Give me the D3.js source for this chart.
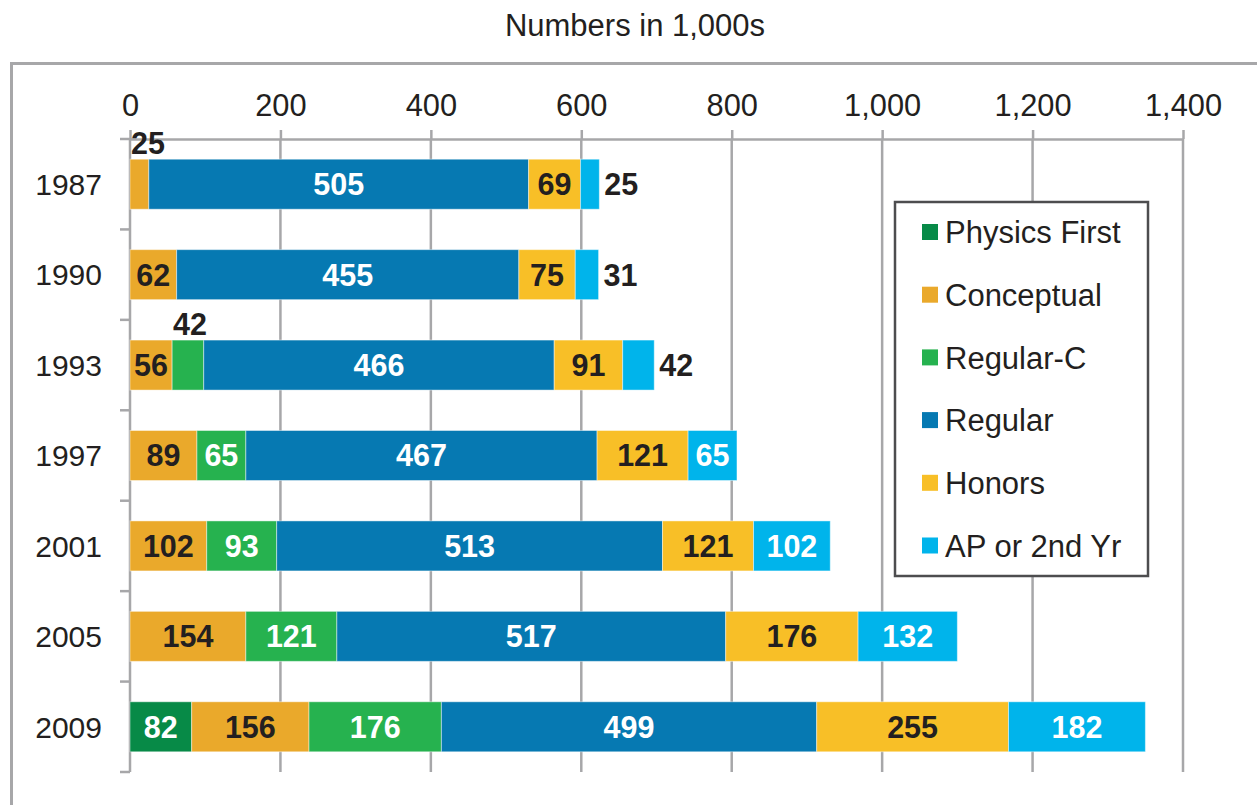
<!DOCTYPE html>
<html>
<head>
<meta charset="utf-8">
<script src="https://cdn.jsdelivr.net/npm/d3@7"></script>
<style>
  body { margin: 0; background: #fff; }
  svg text { font-family: "Liberation Sans", Arial, sans-serif; }
</style>
</head>
<body>
<div id="chart"></div>
<script>
// data (numbers in 1,000s)
const years = ["1987", "1990", "1993", "1997", "2001", "2005", "2009"];
const seriesNames = ["Physics First", "Conceptual", "Regular-C", "Regular", "Honors", "AP or 2nd Yr"];
const physicsFirst = [0, 0, 0, 0, 0, 0, 82];
const conceptual   = [25, 62, 56, 89, 102, 154, 156];
const regularC     = [0, 0, 42, 65, 93, 121, 176];
const regular      = [505, 455, 466, 467, 513, 517, 499];
const honors       = [69, 75, 91, 121, 121, 176, 255];
const apSecond     = [25, 31, 42, 65, 102, 132, 182];
const xTicks = [0, 200, 400, 600, 800, 1000, 1200, 1400];

const colors = ["#078a47", "#eaa92b", "#26b24f", "#0679b2", "#f8bf27", "#00b4eb"];
const labelColors = ["#fff", "#231f20", "#fff", "#fff", "#231f20", "#fff"];
const ink = "#231f20";

const width = 1257, height = 805;
const margin = {top: 139, left: 130};
const plotW = 1183 - margin.left, plotH = 772 - margin.top;

// table the stack layout needs
const rows = years.map((y, i) => ({
    year: y,
    "Physics First": physicsFirst[i],
    "Conceptual": conceptual[i],
    "Regular-C": regularC[i],
    "Regular": regular[i],
    "Honors": honors[i],
    "AP or 2nd Yr": apSecond[i]
}));

const svg = d3.select("#chart").append("svg")
    .attr("width", width).attr("height", height);

// outer frame (runs off the right and bottom edge)
svg.append("rect")
    .attr("x", 11.5).attr("y", 63.5)
    .attr("width", 1400).attr("height", 900)
    .attr("fill", "none").attr("stroke", "#a7a7a9").attr("stroke-width", 3);

svg.append("text")
    .attr("x", 635).attr("y", 36)
    .attr("text-anchor", "middle")
    .style("font-size", "31px").style("fill", ink)
    .text("Numbers in 1,000s");

const plot = svg.append("g")
    .attr("transform", "translate(" + margin.left + "," + margin.top + ")");

const x = d3.scaleLinear().domain([0, 1400]).range([0, plotW]);
const y = d3.scaleBand().domain(years).range([0, plotH])
    .paddingInner(0.447).paddingOuter(0.2235);

// gridlines
plot.append("g").selectAll("line")
    .data(xTicks.slice(1))
    .join("line")
    .attr("x1", d => x(d)).attr("x2", d => x(d))
    .attr("y1", 0).attr("y2", plotH)
    .attr("stroke", "#a7a7a9").attr("stroke-width", 2.5);

// top axis
const xAxis = plot.append("g")
    .call(d3.axisTop(x).tickValues(xTicks).tickSize(9).tickSizeOuter(0).tickPadding(14)
        .tickFormat(d3.format(",")));
xAxis.select(".domain").attr("stroke", "#a7a7a9").attr("stroke-width", 2.5);
xAxis.selectAll(".tick line").attr("stroke", "#a7a7a9").attr("stroke-width", 2.5);
xAxis.selectAll(".tick text")
    .style("font-size", "30.8px").style("fill", ink);

// left axis: line with ticks at the band boundaries
const bounds = years.map(d => y(d) - y.step() * y.paddingInner() / 2);
bounds.push(plotH);
plot.append("line")
    .attr("x1", 0).attr("x2", 0).attr("y1", 0).attr("y2", plotH)
    .attr("stroke", "#a7a7a9").attr("stroke-width", 2.5);
plot.append("g").selectAll("line")
    .data(bounds)
    .join("line")
    .attr("x1", -10).attr("x2", 0)
    .attr("y1", d => d).attr("y2", d => d)
    .attr("stroke", "#a7a7a9").attr("stroke-width", 2.5);
plot.append("g").selectAll("text")
    .data(years)
    .join("text")
    .attr("x", -28)
    .attr("y", d => y(d) + y.bandwidth() / 2)
    .attr("dy", "0.36em")
    .attr("text-anchor", "end")
    .style("font-size", "30px").style("fill", ink)
    .text(d => d);

// bars
const stack = d3.stack().keys(seriesNames)(rows);

const layers = plot.append("g").selectAll("g")
    .data(stack)
    .join("g")
    .attr("fill", (d, i) => colors[i]);

layers.selectAll("rect")
    .data(d => d.filter(s => s[1] - s[0] > 0))
    .join("rect")
    .attr("x", d => x(d[0]))
    .attr("y", d => y(d.data.year))
    .attr("width", d => x(d[1]) - x(d[0]))
    .attr("height", y.bandwidth())
    .attr("stroke", "#fff").attr("stroke-opacity", 0.45).attr("stroke-width", 1);

// value labels
const last = seriesNames.length - 1;
stack.forEach((layer, i) => {
    layer.forEach(d => {
        const v = d[1] - d[0];
        if (v <= 0) return;
        const w = x(d[1]) - x(d[0]);
        const cy = y(d.data.year) + y.bandwidth() / 2;
        const t = plot.append("text")
            .style("font-size", "30.5px").style("font-weight", "bold")
            .text(v);
        if (w >= 40) {
            t.attr("x", x(d[0]) + w / 2).attr("y", cy).attr("dy", "0.36em")
             .attr("text-anchor", "middle").style("fill", labelColors[i]);
        } else if (i === last) {
            t.attr("x", x(d[1]) + 5).attr("y", cy).attr("dy", "0.36em")
             .attr("text-anchor", "start").style("fill", ink);
        } else {
            t.attr("x", x(d[0]) + 1).attr("y", y(d.data.year) - 5)
             .attr("text-anchor", "start").style("fill", ink);
        }
    });
});

// legend
const legend = svg.append("g").attr("transform", "translate(895,202)");
legend.append("rect")
    .attr("width", 253).attr("height", 374)
    .attr("fill", "#fff").attr("stroke", "#4d4d4f").attr("stroke-width", 2.5);
const item = legend.selectAll("g.item")
    .data(seriesNames)
    .join("g").attr("class", "item")
    .attr("transform", (d, i) => "translate(27," + (22 + i * 62.7) + ")");
item.append("rect")
    .attr("width", 16).attr("height", 16)
    .attr("fill", (d, i) => colors[i]);
item.append("text")
    .attr("x", 23).attr("y", 8).attr("dy", "0.36em")
    .style("font-size", "31px").style("fill", ink)
    .text(d => d);
</script>
</body>
</html>
